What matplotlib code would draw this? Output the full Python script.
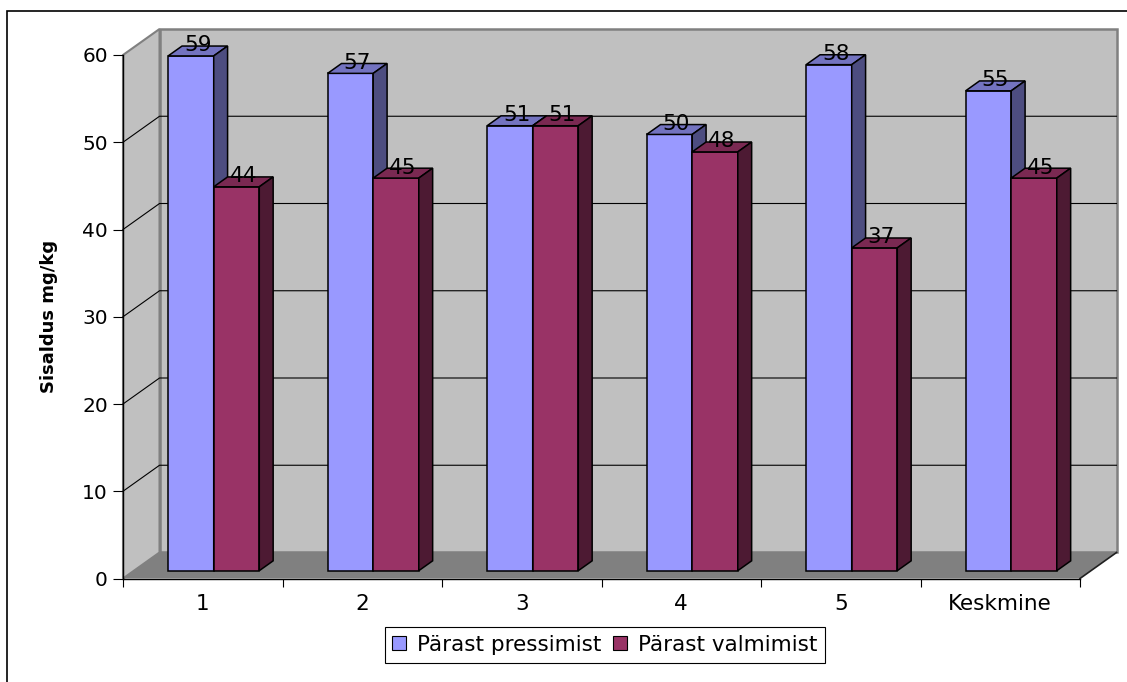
import numpy as np
import matplotlib.pyplot as plt
from matplotlib.patches import Polygon, Rectangle
from matplotlib.lines import Line2D

# data
categories = ['1', '2', '3', '4', '5', 'Keskmine']
parast_pressimist = [59, 57, 51, 50, 58, 55]
parast_valmimist = [44, 45, 51, 48, 37, 45]
series_names = ['Pärast pressimist', 'Pärast valmimist']

# face colours: front, top, side
blue = ('#9999FF', '#7373C0', '#4D4D80')
red = ('#993366', '#7A2952', '#4D1A33')

# oblique projection of depth (0 = front plane, 1 = back wall)
DX = 0.229   # category units for full depth
DY = 2.98    # value units for full depth
Z0, Z1 = 0.30, 0.68   # depth range of the columns
BAR_W = 1 / 3.5       # gap width 150%


def proj(x, v, z):
    return (x + z * DX, v + z * DY)


def box(ax, x0, x1, v, colors, zorder):
    front = [proj(x0, 0, Z0), proj(x1, 0, Z0), proj(x1, v, Z0), proj(x0, v, Z0)]
    top = [proj(x0, v, Z0), proj(x1, v, Z0), proj(x1, v, Z1), proj(x0, v, Z1)]
    side = [proj(x1, 0, Z0), proj(x1, 0, Z1), proj(x1, v, Z1), proj(x1, v, Z0)]
    for pts, c in zip([front, top, side], colors):
        ax.add_patch(Polygon(pts, closed=True, facecolor=c, edgecolor='black',
                             linewidth=1.1, joinstyle='miter', clip_on=False, zorder=zorder))


W, H = 1127, 682
fig = plt.figure(figsize=(W / 100, H / 100), dpi=100)
ax = fig.add_axes([123 / W, (H - 578.5) / H, (1080 - 123) / W, (578.5 - 55) / H])
ax.patch.set_visible(False)

n = len(categories)
ymax = 60
ax.set_xlim(0, n)
ax.set_ylim(0, ymax)

# walls and floor
left_wall = [proj(0, 0, 0), proj(0, ymax, 0), proj(0, ymax, 1), proj(0, 0, 1)]
back_wall = [proj(0, 0, 1), proj(n, 0, 1), proj(n, ymax, 1), proj(0, ymax, 1)]
floor = [proj(0, 0, 0), proj(n, 0, 0), proj(n, 0, 1), proj(0, 0, 1)]
ax.add_patch(Polygon(left_wall, facecolor='#C0C0C0', edgecolor='#808080', linewidth=1.5,
                     clip_on=False, zorder=0.5))
ax.add_patch(Polygon(back_wall, facecolor='#C0C0C0', edgecolor='#808080', linewidth=1.8,
                     clip_on=False, zorder=0.5))

# gridlines across the side wall and the back wall
for v in range(10, ymax, 10):
    pts = np.array([proj(0, v, 0), proj(0, v, 1), proj(n, v, 1)])
    ax.plot(pts[:, 0], pts[:, 1], color='black', lw=0.8, clip_on=False, zorder=0.6)

ax.add_patch(Polygon(floor, facecolor='#808080', edgecolor='none', clip_on=False, zorder=0.7))
edge = np.array([proj(n, 0, 0), proj(n, 0, 1)])
ax.plot(edge[:, 0], edge[:, 1], color='#202020', lw=1.2, clip_on=False, zorder=0.8)

# columns, left to right so right faces overlap properly
for i in range(n):
    x0 = i + (1 - 2 * BAR_W) / 2
    box(ax, x0, x0 + BAR_W, parast_pressimist[i], blue, 2 + i)
    box(ax, x0 + BAR_W, x0 + 2 * BAR_W, parast_valmimist[i], red, 2 + i)

for i in range(n):
    x0 = i + (1 - 2 * BAR_W) / 2
    for k, vals in enumerate([parast_pressimist, parast_valmimist]):
        xc = x0 + (k + 0.5) * BAR_W
        px, py = proj(xc, vals[i], (Z0 + Z1) / 2)
        ax.annotate(str(vals[i]), (px, py), xytext=(0, 4), textcoords='offset points',
                    ha='center', va='center', fontsize=15.5, zorder=20, annotation_clip=False)

# axes
for s in ['top', 'right']:
    ax.spines[s].set_visible(False)
for s in ['left', 'bottom']:
    ax.spines[s].set_color('black')
    ax.spines[s].set_linewidth(1.0)
    ax.spines[s].set_zorder(1)

ax.set_yticks(range(0, ymax + 1, 10))
ax.tick_params(axis='y', length=7.2, width=0.8, pad=3.6, labelsize=14.5)
ax.set_xticks(range(n + 1))
ax.set_xticklabels([])
ax.set_xticks(np.arange(n) + 0.5, minor=True)
ax.set_xticklabels(categories, minor=True)
ax.tick_params(axis='x', which='major', length=6, width=0.8)
ax.tick_params(axis='x', which='minor', length=0, pad=11, labelsize=15.5)

ax.set_ylabel('Sisaldus mg/kg', fontsize=13, fontweight='bold')
ax.yaxis.set_label_coords((58 - 123) / (1080 - 123), 0.5)

handles = [Line2D([], [], marker='s', ls='none', markersize=9.5, markerfacecolor=c[0],
                  markeredgecolor='black', markeredgewidth=0.8) for c in (blue, red)]
leg = fig.legend(handles, series_names, loc='center', bbox_to_anchor=(605 / W, 1 - 645 / H),
                 ncol=2, fontsize=15.5, frameon=True, fancybox=False, framealpha=1,
                 edgecolor='black', handlelength=0.6, handletextpad=0.55, columnspacing=0.55,
                 borderpad=0.35, borderaxespad=0)
leg.get_frame().set_linewidth(0.8)

# chart area border
fig.patches.append(Rectangle((6.5 / W, -0.5), 2, 1.5 - 10.7 / H, transform=fig.transFigure,
                             fill=False, edgecolor='black', linewidth=1.2))

fig.savefig('out.png', dpi=100)
